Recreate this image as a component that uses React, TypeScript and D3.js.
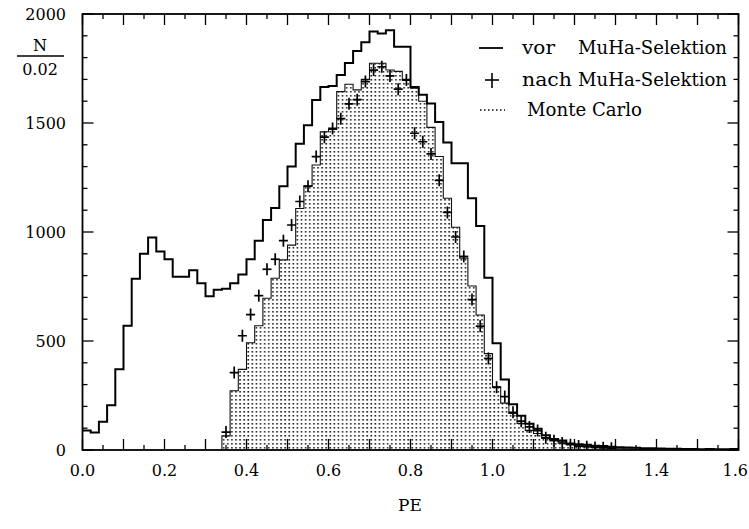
import React from "react";
import * as d3 from "d3";

const binWidth = 0.02;
const xTickLabels = ["0.0", "0.2", "0.4", "0.6", "0.8", "1.0", "1.2", "1.4", "1.6"];
const yTickLabels = ["0", "500", "1000", "1500", "2000"];

// "vor MuHa-Selektion" histogram, 80 bins from 0.0 to 1.6
const vorCounts = [
  90, 80, 130, 205, 370, 570, 785, 900, 975, 910,
  875, 795, 795, 825, 765, 705, 735, 740, 765, 805,
  875, 960, 1055, 1110, 1210, 1300, 1405, 1490, 1605, 1665,
  1670, 1720, 1775, 1830, 1870, 1920, 1910, 1925, 1850, 1850,
  1665, 1630, 1590, 1505, 1410, 1315, 1315, 1155, 1028, 790,
  490, 323, 210, 157, 120, 98, 68, 50, 44, 30,
  26, 24, 20, 18, 15, 13, 12, 10, 8, 8,
  7, 6, 6, 5, 5, 4, 5, 4, 4, 5,
];

// Monte Carlo histogram
const mcCounts = [
  0, 0, 0, 0, 0, 0, 0, 0, 0, 0,
  0, 0, 0, 0, 0, 0, 0, 65, 272, 370,
  492, 570, 696, 788, 872, 940, 1108, 1211, 1307, 1460,
  1470, 1644, 1678, 1652, 1700, 1774, 1774, 1743, 1737, 1700,
  1660, 1600, 1480, 1346, 1155, 1022, 880, 752, 619, 442,
  290, 215, 168, 122, 90, 76, 54, 45, 38, 25,
  22, 18, 15, 12, 10, 8, 5, 4, 3, 2,
  0, 0, 0, 0, 0, 0, 0, 0, 0, 0,
];

// "nach MuHa-Selektion" data points
const nachCounts: (number | null)[] = [
  null, null, null, null, null, null, null, null, null, null,
  null, null, null, null, null, null, null, 82, 355, 524,
  621, 708, 829, 875, 960, 1032, 1140, 1210, 1346, 1435,
  1475, 1520, 1588, 1607, 1690, 1743, 1758, 1716, 1655, 1697,
  1453, 1414, 1358, 1237, 1090, 977, 888, 690, 568, 420,
  288, 245, 173, 132, 106, 89, 56, 43, 32, 24,
  18, 15, 12, 10, 8, null, null, null, null, null,
  null, null, null, null, null, null, null, null, null, null,
];

const W = 749;
const H = 529;
const L = 82.5, R = 738.5, T = 14, B = 450;
const FONT = "'DejaVu Serif', serif";

export default function App() {
  const x = d3.scaleLinear().domain([0, 1.6]).range([L, R]);
  const y = d3.scaleLinear().domain([0, 2000]).range([B, T]);

  const stepPts = (counts: number[]) => {
    const pts: [number, number][] = counts.map((c, i) => [i * binWidth, c]);
    pts.push([counts.length * binWidth, counts[counts.length - 1]]);
    return pts;
  };

  const line = d3
    .line<[number, number]>()
    .x((d) => x(d[0]))
    .y((d) => y(d[1]))
    .curve(d3.curveStepAfter);

  const area = d3
    .area<[number, number]>()
    .x((d) => x(d[0]))
    .y0(y(0))
    .y1((d) => y(d[1]))
    .curve(d3.curveStepAfter);

  const mcStart = mcCounts.findIndex((c) => c > 0);
  let mcEnd = mcCounts.length - 1;
  while (mcEnd > 0 && mcCounts[mcEnd] === 0) mcEnd--;
  const mcPts: [number, number][] = [];
  mcPts.push([mcStart * binWidth, 0]);
  for (let i = mcStart; i <= mcEnd; i++) mcPts.push([i * binWidth, mcCounts[i]]);
  mcPts.push([(mcEnd + 1) * binWidth, 0]);

  const xMajor = d3.range(0, 1.6001, 0.1);
  const xMinor = d3.range(0.05, 1.6, 0.1);
  const yMajor = d3.range(0, 2001, 500);
  const yMinor = d3.range(100, 2000, 100).filter((v) => v % 500 !== 0);

  const bw = x(binWidth) - x(0);

  return (
    <svg
      width={W}
      height={H}
      style={{ position: "absolute", left: 0, top: 0, background: "#fff" }}
    >
      <defs>
        <pattern
          id="dots"
          patternUnits="userSpaceOnUse"
          x={L}
          y={B}
          width={bw / 2}
          height={4}
        >
          <rect x={1} y={1} width={1.6} height={1.6} fill="#222" />
        </pattern>
        <clipPath id="plot">
          <rect x={L} y={T} width={R - L} height={B - T} />
        </clipPath>
      </defs>

      <g clipPath="url(#plot)">
        <path d={area(mcPts) || ""} fill="url(#dots)" />
        <path d={line(mcPts) || ""} fill="none" stroke="#111" strokeWidth={1.1} />
        <path d={line(stepPts(vorCounts)) || ""} fill="none" stroke="#000" strokeWidth={2} />
        {nachCounts.map((c, i) =>
          c == null ? null : (
            <g key={i} stroke="#000" strokeWidth={1.7}>
              <line
                x1={x((i + 0.5) * binWidth) - 4.5}
                x2={x((i + 0.5) * binWidth) + 4.5}
                y1={y(c)}
                y2={y(c)}
              />
              <line
                x1={x((i + 0.5) * binWidth)}
                x2={x((i + 0.5) * binWidth)}
                y1={y(c) - 6}
                y2={Math.min(y(c) + 6, B)}
              />
            </g>
          )
        )}
      </g>

      <rect x={L} y={T} width={R - L} height={B - T} fill="none" stroke="#000" strokeWidth={1.8} />

      <g stroke="#000" strokeWidth={1.3}>
        {xMajor.map((v, i) => (
          <g key={"xM" + i}>
            <line x1={x(v)} x2={x(v)} y1={B} y2={B - 11} />
            <line x1={x(v)} x2={x(v)} y1={T} y2={T + 11} />
          </g>
        ))}
        {xMinor.map((v, i) => (
          <g key={"xm" + i}>
            <line x1={x(v)} x2={x(v)} y1={B} y2={B - 5} />
            <line x1={x(v)} x2={x(v)} y1={T} y2={T + 5} />
          </g>
        ))}
        {yMajor.map((v, i) => (
          <g key={"yM" + i}>
            <line x1={L} x2={L + 11} y1={y(v)} y2={y(v)} />
            <line x1={R} x2={R - 11} y1={y(v)} y2={y(v)} />
          </g>
        ))}
        {yMinor.map((v, i) => (
          <g key={"ym" + i}>
            <line x1={L} x2={L + 5} y1={y(v)} y2={y(v)} />
            <line x1={R} x2={R - 5} y1={y(v)} y2={y(v)} />
          </g>
        ))}
      </g>

      <g fontFamily={FONT} fontSize={16} fill="#000">
        {xTickLabels.map((t, i) => (
          <text
            key={t}
            x={i === xTickLabels.length - 1 ? 748 : x(+t)}
            y={476}
            textAnchor={i === xTickLabels.length - 1 ? "end" : "middle"}
          >
            {t}
          </text>
        ))}
        {yTickLabels.map((t) => (
          <text key={t} x={66} y={y(+t) + 6} textAnchor="end">
            {t}
          </text>
        ))}
        <text x={410} y={511} textAnchor="middle" fontSize={17}>PE</text>
        <text x={40} y={51} textAnchor="middle">N</text>
        <line x1={17} x2={64} y1={56} y2={56} stroke="#000" strokeWidth={1.3} />
        <text x={40} y={75} textAnchor="middle">0.02</text>
      </g>

      <g fontFamily={FONT} fontSize={18} fill="#000">
        <line x1={479} x2={503} y1={48} y2={48} stroke="#000" strokeWidth={1.8} />
        <text x={522} y={54} textLength={33} lengthAdjust="spacingAndGlyphs">vor</text>
        <text x={578} y={54} textLength={149} lengthAdjust="spacingAndGlyphs">MuHa-Selektion</text>

        <line x1={492} x2={492} y1={73} y2={88} stroke="#000" strokeWidth={1.6} />
        <line x1={485} x2={499} y1={80} y2={80} stroke="#000" strokeWidth={1.6} />
        <text x={522} y={86} textLength={50} lengthAdjust="spacingAndGlyphs">nach</text>
        <text x={578} y={86} textLength={149} lengthAdjust="spacingAndGlyphs">MuHa-Selektion</text>

        <line x1={480} x2={505} y1={110} y2={110} stroke="#000" strokeWidth={1.5} strokeDasharray="1.5,2.5" />
        <text x={527} y={116} textLength={115} lengthAdjust="spacingAndGlyphs">Monte Carlo</text>
      </g>
    </svg>
  );
}
